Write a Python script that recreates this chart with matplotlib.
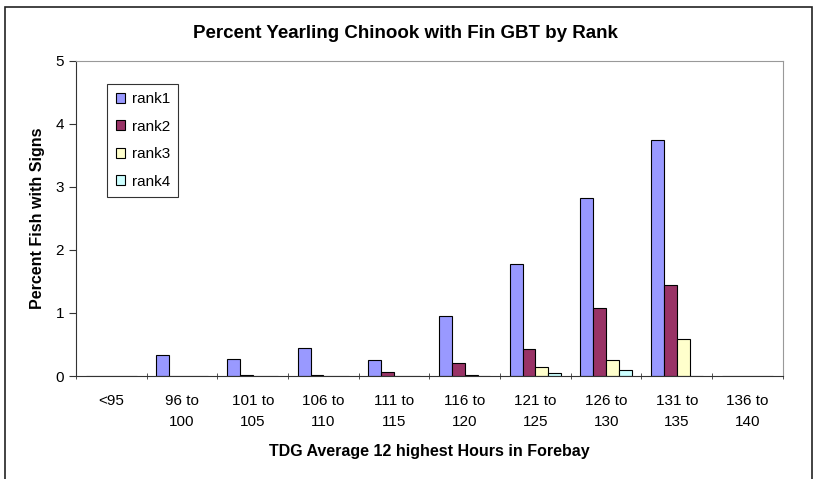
import matplotlib
matplotlib.use('Agg')
from matplotlib import pyplot as plt
from matplotlib.patches import Rectangle
import numpy as np

plt.rcParams['font.family'] = ['Liberation Sans', 'DejaVu Sans']

categories = ['<95', '96 to\n100', '101 to\n105', '106 to\n110', '111 to\n115',
              '116 to\n120', '121 to\n125', '126 to\n130', '131 to\n135', '136 to\n140']
rank1 = [0, 0.33, 0.27, 0.45, 0.26, 0.95, 1.77, 2.83, 3.74, 0]
rank2 = [0, 0, 0.02, 0.02, 0.07, 0.20, 0.43, 1.08, 1.44, 0]
rank3 = [0, 0, 0, 0, 0, 0.02, 0.14, 0.25, 0.58, 0]
rank4 = [0, 0, 0, 0, 0, 0, 0.04, 0.09, 0, 0]
series = [('rank1', rank1, '#9999FF'), ('rank2', rank2, '#993366'),
          ('rank3', rank3, '#FFFFCC'), ('rank4', rank4, '#CCFFFF')]

fig = plt.figure(figsize=(8.2, 4.79), dpi=100)
ax = fig.add_axes([0.0927, 0.215, 0.862, 0.658])

# outer chart frame
fig.patches.append(Rectangle((5 / 820, -0.05), 807 / 820, 1.05 - 7 / 479,
                             transform=fig.transFigure, fill=False,
                             edgecolor='#222222', lw=1.2))

x = np.arange(len(categories))
w = 1 / 5.5
for i, (name, vals, col) in enumerate(series):
    ax.bar(x + (i - 1.5) * w, vals, w, color=col, edgecolor='black',
           linewidth=0.8, label=name)

ax.set_xlim(-0.5, len(categories) - 0.5)
ax.set_ylim(0, 5)
ax.set_yticks(range(6))
ax.set_xticks(x)
ax.set_xticklabels(categories, fontsize=11, va='top', linespacing=1.6)
ax.set_xticks(np.arange(len(categories) + 1) - 0.5, minor=True)
ax.tick_params(axis='x', which='major', length=0, pad=13)
ax.tick_params(axis='x', which='minor', length=5, direction='inout', color='#333333')
ax.tick_params(axis='y', length=5, direction='out', labelsize=11, color='#333333')

for s in ['top', 'right']:
    ax.spines[s].set_color('#999999')
for s in ['left', 'bottom']:
    ax.spines[s].set_color('#333333')

fig.text(0.495, 1 - 33 / 479, 'Percent Yearling Chinook with Fin GBT by Rank',
         fontsize=13.5, fontweight='bold', ha='center', va='center')
ax.set_xlabel('TDG Average 12 highest Hours in Forebay', fontsize=11.5,
              fontweight='bold', labelpad=11)
ax.set_ylabel('Percent Fish with Signs', fontsize=11.5, fontweight='bold', labelpad=8)

leg = ax.legend(loc='upper left', bbox_to_anchor=(0.044, 0.927), borderaxespad=0,
                fontsize=11, frameon=True, fancybox=False, handlelength=0.6,
                handleheight=0.6, labelspacing=0.88, borderpad=0.55,
                handletextpad=0.45)
leg.get_frame().set_edgecolor('black')
leg.get_frame().set_linewidth(0.8)

plt.savefig('out.png', dpi=100)
